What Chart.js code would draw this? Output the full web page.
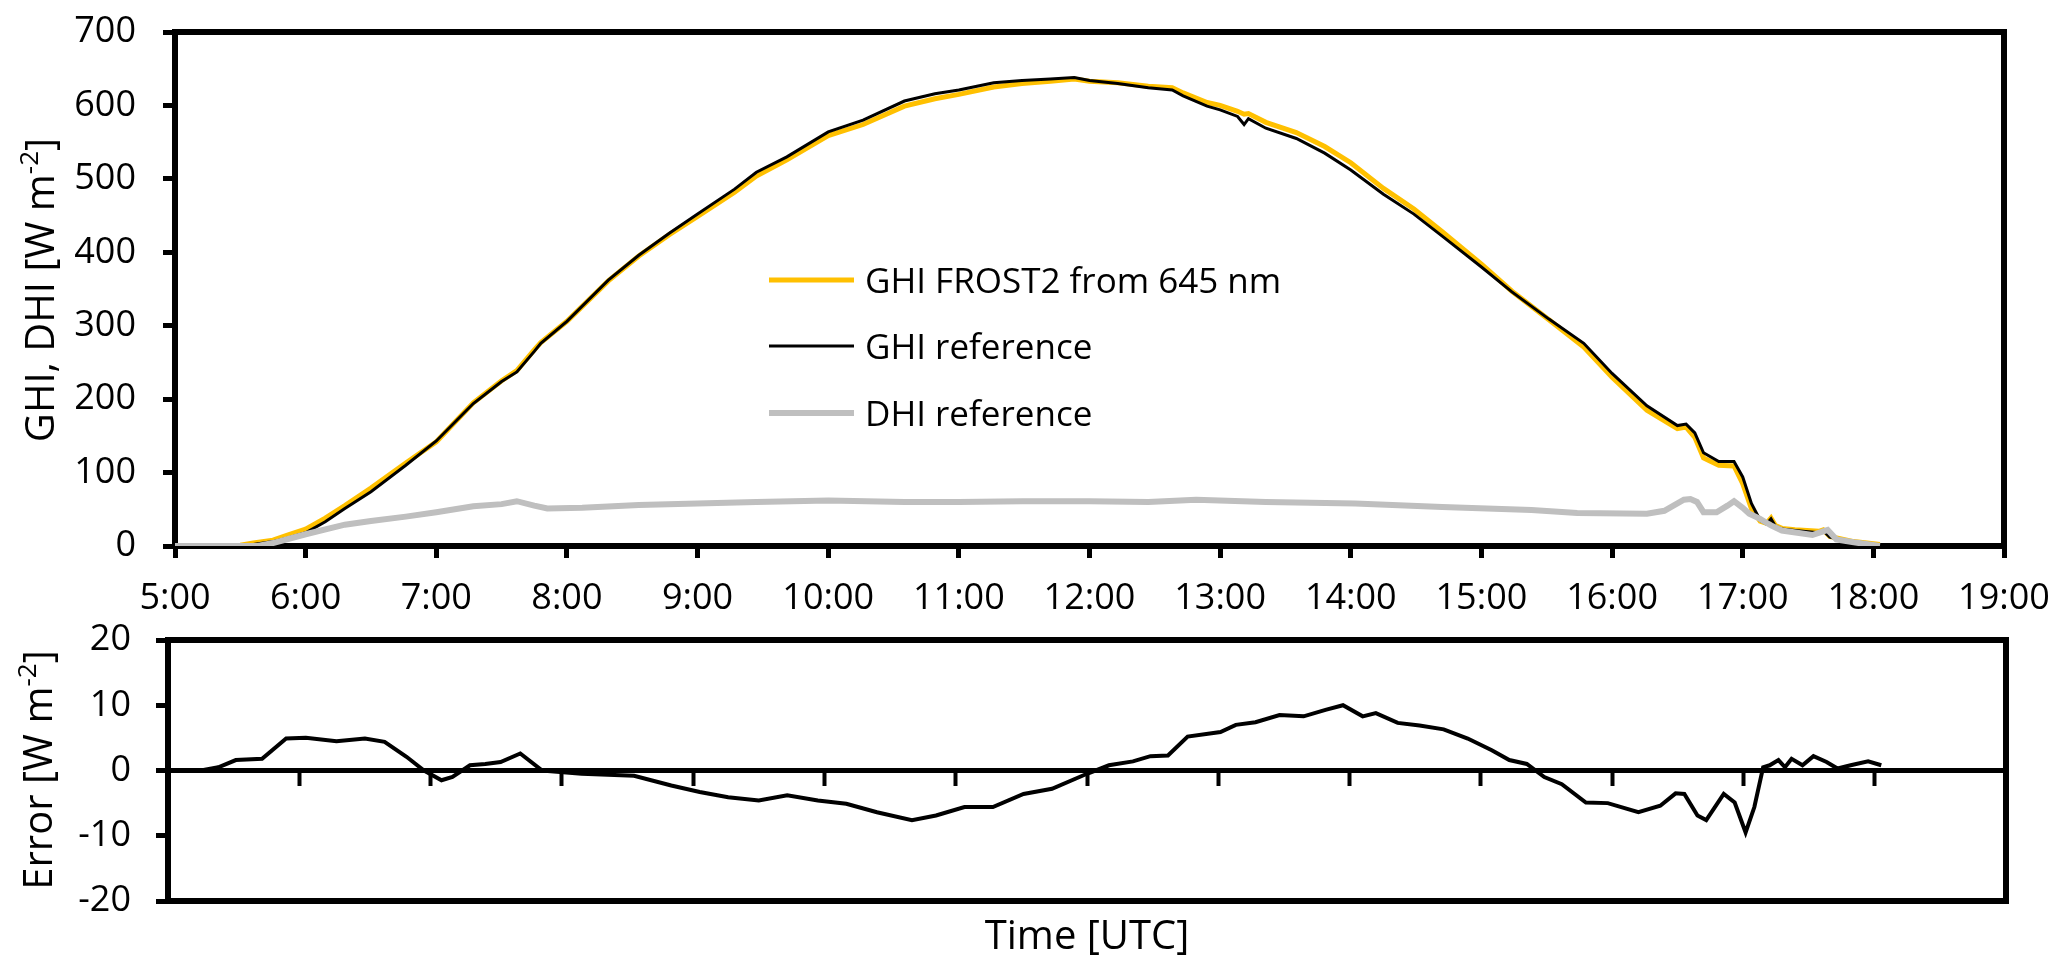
<!DOCTYPE html>
<html>
<head>
<meta charset="utf-8">
<script src="https://cdn.jsdelivr.net/npm/chart.js@4.4.1/dist/chart.umd.min.js"></script>
<style>
  html, body { margin: 0; padding: 0; background: #fff; }
  #wrap { position: relative; width: 2067px; height: 975px; }
  canvas { position: absolute; left: 0; }
  #topChart { top: 0; }
  #errChart { top: 615px; }
</style>
</head>
<body>
<div id="wrap">
  <canvas id="topChart" width="2067" height="625"></canvas>
  <canvas id="errChart" width="2067" height="360"></canvas>
</div>
<script>
// values, times in UTC

const hourLabels = ['5:00', '6:00', '7:00', '8:00', '9:00', '10:00', '11:00', '12:00',
  '13:00', '14:00', '15:00', '16:00', '17:00', '18:00', '19:00'];

// GHI reference and GHI FROST2 share the same time stamps
const ghiTime = ['5:00', '5:30', '5:36', '5:45', '5:52', '6:00', '6:09', '6:18', '6:30', '6:46',
  '7:00', '7:17', '7:30', '7:37', '7:45', '7:48', '8:00', '8:19', '8:33', '8:47',
  '9:00', '9:17', '9:27', '9:41', '10:00', '10:16', '10:35', '10:49', '11:00', '11:16',
  '11:29', '11:42', '11:53', '12:00', '12:13', '12:27', '12:38', '12:43', '12:54', '13:00',
  '13:08', '13:11', '13:13', '13:21', '13:35', '13:48', '14:00', '14:15', '14:29', '14:42',
  '15:00', '15:14', '15:31', '15:47', '16:00', '16:16', '16:30', '16:34', '16:38', '16:42',
  '16:49', '16:56', '17:00', '17:04', '17:08', '17:11', '17:13', '17:15', '17:18', '17:24',
  '17:35', '17:37', '17:40', '17:51', '18:03'];

const ghiRef = [0, 0, 2, 6, 11, 18, 33, 51, 74, 110,
  143, 194, 224, 237, 265, 276, 306, 362, 396, 426,
  452, 486, 509, 530, 564, 580, 606, 616, 621, 631,
  634, 636, 638, 634, 630, 624, 621, 613, 599, 594,
  585, 574, 582, 569, 555, 535, 512, 479, 452, 422,
  380, 346, 309, 276, 235, 191, 164, 166, 154, 127,
  115, 115, 94, 58, 35, 30, 37, 27, 23, 21,
  18, 21, 12, 5, 1];

const ghiFrost = [0, 1, 4, 8, 15, 23, 38, 55, 79, 113,
  142, 195, 225, 239, 267, 277, 306, 361, 395, 424,
  449, 482, 504, 526, 559, 574, 599, 609, 615, 625,
  630, 633, 636, 633, 631, 626, 624, 617, 604, 600,
  592, 588, 589, 577, 563, 544, 522, 487, 459, 428,
  384, 347, 308, 271, 230, 185, 160, 162, 148, 120,
  110, 109, 85, 51, 34, 31, 38, 28, 24, 22,
  20, 22, 13, 6, 2];

const dhiTime = ['5:00', '5:38', '5:45', '6:00', '6:18', '6:30', '6:46', '7:00', '7:17', '7:30',
  '7:37', '7:45', '7:51', '8:07', '8:33', '9:00', '9:27', '10:00', '10:35', '11:00',
  '11:29', '12:00', '12:27', '12:49', '13:21', '14:02', '14:42', '15:23', '15:44', '16:16',
  '16:24', '16:30', '16:33', '16:36', '16:39', '16:42', '16:48', '16:53', '16:56', '17:00',
  '17:03', '17:08', '17:13', '17:18', '17:32', '17:37', '17:39', '17:43', '17:51', '18:03'];

const dhiRef = [0, 0, 4, 16, 29, 34, 40, 46, 54, 57,
  61, 55, 51, 52, 56, 58, 60, 62, 60, 60,
  61, 61, 60, 63, 60, 58, 53, 49, 45, 44,
  48, 58, 63, 64, 60, 46, 46, 55, 61, 52,
  44, 37, 28, 21, 15, 20, 22, 9, 5, 0];

const errTime = ['5:00', '5:15', '5:23', '5:31', '5:43', '5:54', '6:03', '6:17', '6:30', '6:39',
  '6:49', '6:57', '7:05', '7:10', '7:18', '7:25', '7:32', '7:41', '7:51', '8:09',
  '8:33', '8:50', '9:03', '9:16', '9:30', '9:43', '9:57', '10:10', '10:24', '10:40',
  '10:51', '11:04', '11:17', '11:31', '11:44', '12:00', '12:10', '12:21', '12:29', '12:37',
  '12:46', '13:01', '13:08', '13:17', '13:28', '13:39', '13:49', '13:57', '14:06', '14:12',
  '14:22', '14:32', '14:43', '14:54', '15:05', '15:13', '15:21', '15:29', '15:37', '15:48',
  '15:58', '16:12', '16:22', '16:29', '16:33', '16:39', '16:43', '16:51', '16:56', '17:01',
  '17:05', '17:09', '17:12', '17:16', '17:19', '17:22', '17:27', '17:32', '17:38', '17:43',
  '17:49', '17:57', '18:03'];

const errVal = [0, 0, 0.5, 1.6, 1.8, 4.9, 5.0, 4.5, 4.9, 4.4,
  2.1, 0, -1.5, -1.0, 0.8, 1.0, 1.3, 2.6, 0, -0.5,
  -0.8, -2.3, -3.3, -4.1, -4.6, -3.8, -4.6, -5.1, -6.4, -7.6,
  -6.9, -5.6, -5.6, -3.6, -2.8, -0.5, 0.8, 1.4, 2.2, 2.3,
  5.2, 5.9, 7.0, 7.4, 8.5, 8.3, 9.3, 10.0, 8.3, 8.8,
  7.3, 6.9, 6.3, 4.9, 3.1, 1.6, 1.0, -1.0, -2.1, -4.9,
  -5.0, -6.4, -5.4, -3.5, -3.6, -6.9, -7.6, -3.6, -4.9, -9.5,
  -5.6, 0.5, 0.8, 1.6, 0.5, 1.8, 0.8, 2.2, 1.3, 0.3,
  0.8, 1.4, 0.8];


const toHours = s => { const p = s.split(':'); return +p[0] + p[1] / 60; };
const points = (times, vals) => times.map((t, i) => ({ x: toHours(t), y: vals[i] }));

Chart.defaults.font.family = '"Open Sans", sans-serif';
Chart.defaults.font.size = 36;
Chart.defaults.color = '#000';
Chart.defaults.animation = false;

// keep label overhang from shrinking the plot area
const noPad = s => { s.paddingTop = 0; s.paddingBottom = 0; s.paddingLeft = 0; s.paddingRight = 0; };

// thick black box round the plot area
const frame = {
  id: 'frame',
  beforeDatasetsDraw(chart) {
    const { ctx, chartArea: a } = chart;
    ctx.save();
    ctx.strokeStyle = '#000';
    ctx.lineWidth = 6;
    ctx.strokeRect(a.left, a.top, a.right - a.left, a.bottom - a.top);
    ctx.restore();
  }
};

// rotated axis title with a superscript exponent
function unitTitle(id, main, sup, cx, cy) {
  return {
    id: id,
    afterDraw(chart) {
      const ctx = chart.ctx;
      ctx.save();
      ctx.fillStyle = '#000';
      ctx.textBaseline = 'alphabetic';
      ctx.font = '40px "Open Sans"';
      const w1 = ctx.measureText(main).width;
      const w3 = ctx.measureText(']').width;
      ctx.font = '26px "Open Sans"';
      const w2 = ctx.measureText(sup).width;
      const start = -(w1 + w2 + w3) / 2;
      ctx.translate(cx, cy);
      ctx.rotate(-Math.PI / 2);
      ctx.font = '40px "Open Sans"';
      ctx.fillText(main, start, 14);
      ctx.fillText(']', start + w1 + w2, 14);
      ctx.font = '26px "Open Sans"';
      ctx.fillText(sup, start + w1, -2);
      ctx.restore();
    }
  };
}

// legend drawn inside the plot
const innerLegend = {
  id: 'innerLegend',
  afterDraw(chart) {
    const ctx = chart.ctx;
    const x1 = 769, x2 = 854, tx = 865;
    const rows = [280, 346, 413];
    ctx.save();
    ctx.font = '35px "Open Sans"';
    ctx.textBaseline = 'alphabetic';
    ctx.fillStyle = '#000';
    chart.data.datasets.forEach((ds, i) => {
      const y = rows[i];
      ctx.strokeStyle = ds.borderColor;
      ctx.lineWidth = ds.borderWidth;
      ctx.beginPath();
      ctx.moveTo(x1, y);
      ctx.lineTo(x2, y);
      ctx.stroke();
      ctx.fillText(ds.label, tx, y + 12.5);
    });
    ctx.restore();
  }
};

new Chart(document.getElementById('topChart'), {
  type: 'line',
  data: {
    datasets: [
      { label: 'GHI FROST2 from 645 nm', data: points(ghiTime, ghiFrost),
        borderColor: '#FFC000', borderWidth: 5, order: 3 },
      { label: 'GHI reference', data: points(ghiTime, ghiRef),
        borderColor: '#000000', borderWidth: 3, order: 2 },
      { label: 'DHI reference', data: points(dhiTime, dhiRef),
        borderColor: '#BFBFBF', borderWidth: 6, order: 1 }
    ]
  },
  options: {
    responsive: false,
    elements: { point: { radius: 0 }, line: { tension: 0 } },
    layout: { padding: { top: 32, right: 63, left: 0, bottom: 0 } },
    plugins: { legend: { display: false }, tooltip: { enabled: false } },
    scales: {
      x: {
        type: 'linear', min: 5, max: 19,
        afterFit: s => { s.height = 79; noPad(s); },
        border: { display: false },
        grid: { drawOnChartArea: false, tickLength: 12, tickWidth: 5, tickColor: '#000' },
        ticks: { stepSize: 1, autoSkip: false, maxRotation: 0, padding: 19,
          callback: v => hourLabels[v - 5] }
      },
      y: {
        min: 0, max: 700,
        afterFit: s => { s.width = 175; noPad(s); },
        border: { display: false },
        grid: { drawOnChartArea: false, tickLength: 12, tickWidth: 5, tickColor: '#000' },
        ticks: { stepSize: 100, padding: 27 }
      }
    }
  },
  plugins: [frame, innerLegend, unitTitle('ghiTitle', 'GHI, DHI [W m', '-2', 40, 290)]
});

new Chart(document.getElementById('errChart'), {
  type: 'line',
  data: {
    datasets: [
      { label: 'Error', data: points(errTime, errVal), borderColor: '#000000',
        borderWidth: 4, xAxisID: 'x', yAxisID: 'y' }
    ]
  },
  options: {
    responsive: false,
    elements: { point: { radius: 0 }, line: { tension: 0 } },
    layout: { padding: { top: 25, right: 61, left: 0, bottom: 0 } },
    plugins: { legend: { display: false }, tooltip: { enabled: false } },
    scales: {
      x: {
        type: 'linear', min: 5, max: 19,
        position: { y: 0 },
        afterFit: s => { s.height = 0; noPad(s); },
        border: { display: true, width: 5, color: '#000' },
        grid: { drawOnChartArea: false, tickLength: 13, tickWidth: 4, tickColor: '#000' },
        ticks: { display: false, stepSize: 1 }
      },
      xb: {
        type: 'linear', min: 5, max: 19, position: 'bottom',
        afterFit: s => { s.height = 74; noPad(s); },
        border: { display: false },
        grid: { display: false },
        ticks: { display: false },
        title: { display: true, text: 'Time [UTC]', font: { size: 40 }, padding: { top: 0, bottom: 13 } }
      },
      y: {
        min: -20, max: 20,
        afterFit: s => { s.width = 168; noPad(s); },
        border: { display: false },
        grid: { drawOnChartArea: false, tickLength: 12, tickWidth: 5, tickColor: '#000' },
        ticks: { stepSize: 10, padding: 25 }
      }
    }
  },
  plugins: [frame, unitTitle('errTitle', 'Error [W m', '-2', 38, 155)]
});
</script>
</body>
</html>
